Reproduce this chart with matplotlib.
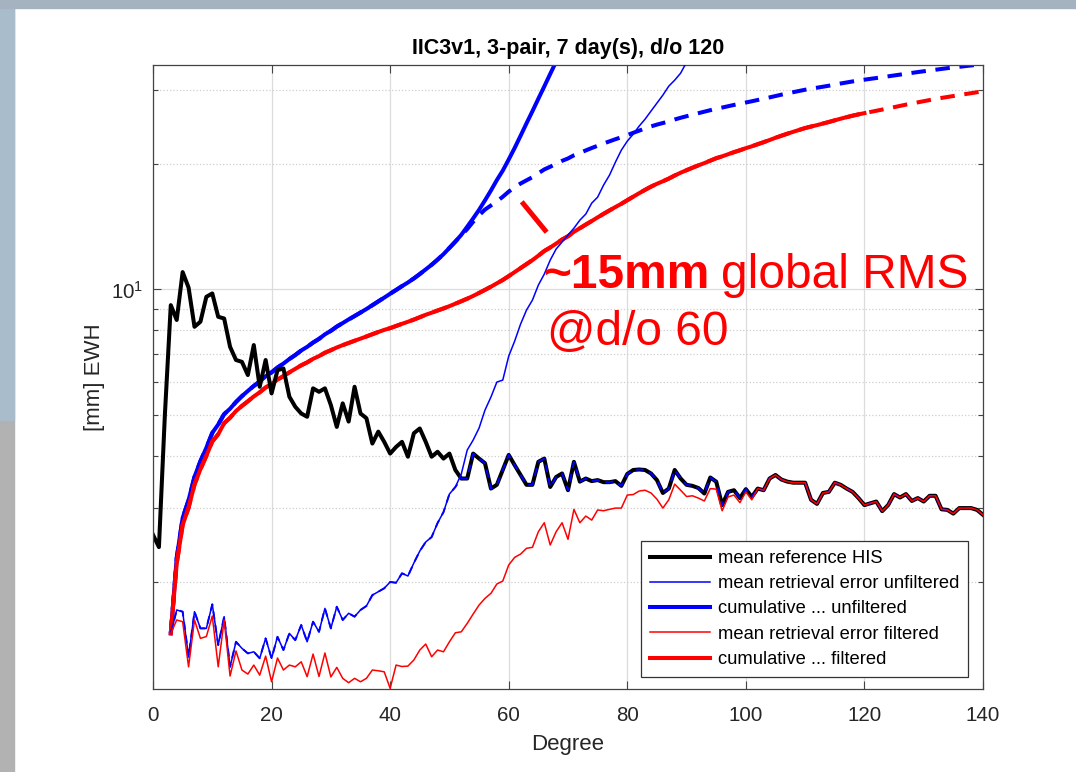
import numpy as np
from matplotlib import pyplot as plt
from matplotlib.ticker import LogLocator, NullFormatter, MultipleLocator
from matplotlib.patches import Rectangle

plt.rcParams['font.family'] = ['Liberation Sans', 'DejaVu Sans']

# 数据：阶数与各条曲线
degrees = np.arange(0, 141)

# mean reference HIS, degree 0..140
ref_his = np.array([
    2.59, 2.42, 5.0, 9.17, 8.45, 11.0, 10.1, 8.14, 8.37, 9.6,
    9.78, 8.6, 8.52, 7.29, 6.78, 6.71, 6.24, 7.36, 5.85, 6.78,
    5.64, 6.41, 6.47, 5.54, 5.24, 5.05, 4.96, 5.80, 5.69, 5.80,
    5.29, 4.69, 5.34, 4.83, 5.85, 5.05, 4.92, 4.28, 4.57, 4.32,
    4.05, 4.20, 4.32, 3.98, 4.53, 4.65, 4.32, 3.98, 4.09, 3.94,
    4.05, 3.70, 3.53, 3.53, 4.05, 3.94, 3.84, 3.34, 3.41, 3.70,
    4.02, 3.80, 3.60, 3.41, 3.41, 3.87, 3.94, 3.37, 3.56, 3.63,
    3.31, 3.87, 3.47, 3.53, 3.48, 3.50, 3.46, 3.46, 3.48, 3.39,
    3.62, 3.70, 3.71, 3.70, 3.63, 3.50, 3.26, 3.34, 3.70, 3.53,
    3.41, 3.39, 3.35, 3.25, 3.55, 3.47, 3.05, 3.28, 3.31, 3.17,
    3.33, 3.19, 3.34, 3.31, 3.53, 3.60, 3.51, 3.47, 3.45, 3.45,
    3.45, 3.14, 3.07, 3.26, 3.28, 3.45, 3.41, 3.34, 3.28, 3.17,
    3.05, 3.08, 3.11, 2.95, 3.05, 3.24, 3.18, 3.24, 3.12, 3.17,
    3.11, 3.21, 3.21, 2.98, 2.97, 2.91, 3.00, 3.00, 3.00, 2.97,
    2.89])

# mean retrieval error unfiltered, degree 3..91 (leaves the plot at the top)
err_unf = np.array([
    1.505, 1.712, 1.696, 1.323, 1.696, 1.547, 1.547, 1.766, 1.411, 1.650,
    1.252, 1.437, 1.386, 1.348, 1.360, 1.312, 1.464, 1.312, 1.477, 1.373,
    1.505, 1.450, 1.576, 1.437, 1.605, 1.518, 1.727, 1.547, 1.743, 1.620,
    1.681, 1.650, 1.712, 1.750, 1.858, 1.893, 1.929, 1.997, 1.989, 2.095,
    2.064, 2.217, 2.368, 2.489, 2.558, 2.763, 2.935, 3.241, 3.369, 3.618,
    4.129, 4.362, 4.661, 5.146, 5.528, 6.003, 6.070, 6.926, 7.521, 8.261,
    8.923, 9.428, 10.24, 10.88, 11.75, 12.49, 12.98, 13.49, 14.01, 14.64,
    15.14, 16.08, 16.62, 17.76, 18.76, 20.15, 21.53, 22.62, 23.51, 24.57,
    25.53, 26.69, 27.89, 29.14, 30.62, 31.65, 32.89, 34.95, 36.93])

# mean retrieval error filtered, degree 3..101
err_fil = np.array([
    1.505, 1.620, 1.605, 1.252, 1.620, 1.464, 1.479, 1.656, 1.252, 1.620,
    1.190, 1.366, 1.230, 1.203, 1.264, 1.196, 1.328, 1.153, 1.314, 1.230,
    1.264, 1.252, 1.287, 1.186, 1.343, 1.187, 1.351, 1.184, 1.248, 1.175,
    1.147, 1.175, 1.153, 1.175, 1.230, 1.225, 1.218, 1.112, 1.264, 1.254,
    1.257, 1.300, 1.373, 1.419, 1.323, 1.373, 1.360, 1.437, 1.510, 1.518,
    1.590, 1.674, 1.759, 1.825, 1.876, 1.975, 2.008, 2.193, 2.287, 2.329,
    2.404, 2.417, 2.634, 2.767, 2.448, 2.634, 2.767, 2.526, 2.979, 2.767,
    2.871, 2.808, 2.969, 2.956, 2.979, 3.00, 3.00, 3.223, 3.232, 3.295,
    3.31, 3.26, 3.151, 3.00, 3.14, 3.423, 3.31, 3.197, 3.21, 3.169,
    3.12, 3.34, 3.33, 2.956, 3.19, 3.223, 3.09, 3.28, 3.14])

lmin = 3
d_unf = np.arange(lmin, lmin + len(err_unf))
d_err = degrees[lmin:]
# from degree 102 on the filtered error lies on the reference curve
err_fil_all = np.concatenate([err_fil, ref_his[lmin + len(err_fil):]])
# error capped by the signal (beyond the drawn part the error is above it)
err_unf_ext = np.concatenate([err_unf, np.full(len(d_err) - len(err_unf), np.inf)])
err_unf_cap = np.minimum(err_unf_ext, ref_his[lmin:])

# cumulative RMS
cum_unf = np.sqrt(np.cumsum(err_unf ** 2))
cum_unf_cap = np.sqrt(np.cumsum(err_unf_cap ** 2))
cum_fil = np.sqrt(np.cumsum(err_fil_all ** 2))
d_filter = 120

fig = plt.figure(figsize=(10.76, 7.72), dpi=100)

# slide frame at the edges of the screenshot
fig.patches.append(Rectangle((0, 0), 14 / 1076, 1, transform=fig.transFigure,
                             color='#b2b2b2', zorder=0))
fig.patches.append(Rectangle((0, 1 - 420 / 772), 14 / 1076, 420 / 772,
                             transform=fig.transFigure, color='#a9bccb', zorder=0))
fig.patches.append(Rectangle((0, 1 - 8 / 772), 1, 8 / 772, transform=fig.transFigure,
                             color='#a4b3bf', zorder=0))

ax = fig.add_axes([153 / 1076, 83 / 772, 830 / 1076, 624 / 772])

ax.plot(d_err, cum_unf_cap, color='b', lw=2.9, dashes=(3.6, 2.4), zorder=2)
ax.plot(d_unf, cum_unf, color='b', lw=2.9, zorder=2.1, label='cumulative ... unfiltered')
ax.plot(d_err, cum_fil, color='r', lw=2.9, dashes=(3.6, 2.4), zorder=2.2)
m = d_err <= d_filter
ax.plot(d_err[m], cum_fil[m], color='r', lw=2.9, zorder=2.3, label='cumulative ... filtered')
ax.plot(degrees, ref_his, color='k', lw=2.9, zorder=2.5, label='mean reference HIS')
ax.plot(d_unf, err_unf, color='b', lw=1.1, zorder=2.6, label='mean retrieval error unfiltered')
ax.plot(d_err, err_unf_cap, color='b', lw=1.4, dashes=(4, 3), zorder=2.7)
ax.plot(d_err, err_fil_all, color='r', lw=1.1, zorder=2.8, label='mean retrieval error filtered')

ax.set_yscale('log')
ax.set_xlim(0, 140)
ax.set_ylim(1.108, 34.4)
ax.xaxis.set_major_locator(MultipleLocator(20))
ax.yaxis.set_major_locator(LogLocator(base=10))
ax.yaxis.set_minor_locator(LogLocator(base=10, subs=np.arange(2, 10)))
ax.yaxis.set_minor_formatter(NullFormatter())

ax.grid(True, which='major', color='#dcdcdc', lw=0.9, ls='-')
ax.grid(True, which='minor', axis='y', color='#cfcfcf', lw=0.9, ls=':')
ax.set_axisbelow(True)
ax.tick_params(which='both', direction='in', top=True, right=True, color='#444444',
               labelsize=14.8, labelcolor='#262626')
ax.tick_params(axis='x', pad=12)
ax.tick_params(axis='y', pad=7)
ax.tick_params(which='major', length=6, width=0.8)
ax.tick_params(which='minor', length=3.5, width=0.8)
for s in ax.spines.values():
    s.set_color('#444444')
    s.set_linewidth(0.9)

ax.set_xlabel('Degree', fontsize=16, color='#262626', labelpad=7)
ax.set_ylabel('[mm] EWH', fontsize=16, color='#262626', labelpad=4.5)
ax.set_title('IIC3v1, 3-pair, 7 day(s), d/o 120', fontsize=15.5, fontweight='bold', pad=8)

h, lab = ax.get_legend_handles_labels()
order = ['mean reference HIS', 'mean retrieval error unfiltered', 'cumulative ... unfiltered',
         'mean retrieval error filtered', 'cumulative ... filtered']
hh = [h[lab.index(o)] for o in order]
leg = ax.legend(hh, order, loc='lower right', bbox_to_anchor=(0.982, 0.019), borderaxespad=0,
                fontsize=13.2, fancybox=False, framealpha=1, edgecolor='#333333',
                handlelength=3.3, handletextpad=0.4, labelspacing=0.45, borderpad=0.5)
leg.get_frame().set_linewidth(0.9)

# annotation
ax.plot([62.2, 66.4], [16.2, 13.7], color='r', lw=3.6, solid_capstyle='butt', zorder=3)
t1 = fig.text(543 / 1076, 1 - 288 / 772, '~15mm', fontsize=34.5, color='r',
              fontweight='bold', va='baseline', ha='left')
fig.text(547 / 1076, 1 - 345 / 772, '@d/o 60', fontsize=34.5, color='r',
         va='baseline', ha='left')

fig.canvas.draw()
bb = t1.get_window_extent()
fig.text((bb.x1 + 12) / 1076, 1 - 288 / 772, 'global RMS', fontsize=34.5, color='r',
         va='baseline', ha='left')

fig.savefig('out.png', dpi=100)
